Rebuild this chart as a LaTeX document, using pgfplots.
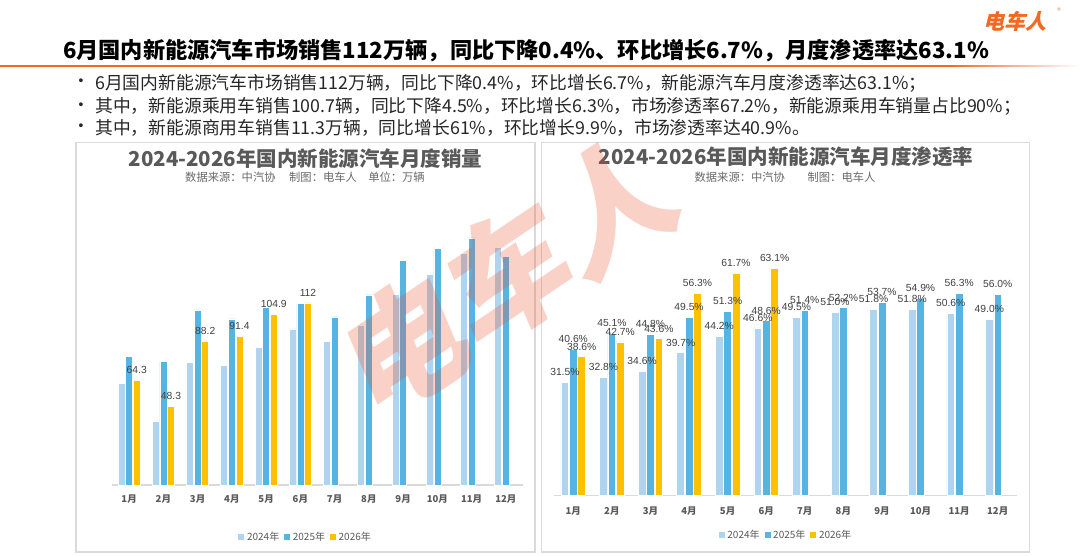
\documentclass[border=0pt]{standalone}
\usepackage{fontspec}
\usepackage{pgfplots}
\pgfplotsset{compat=1.18}
\setmainfont{Noto Sans CJK SC}
\newfontfamily\numfont{Liberation Sans}
\definecolor{c24}{HTML}{AED4F0}
\definecolor{c25}{HTML}{56B4E3}
\definecolor{c26}{HTML}{FFC000}
\definecolor{tgray}{HTML}{595959}
\definecolor{sgray}{HTML}{6A6A6A}
\definecolor{lgray}{HTML}{404040}
\definecolor{brd}{HTML}{DADADA}
\definecolor{orng}{HTML}{F26A21}
\definecolor{wm}{HTML}{E8502A}
\definecolor{txt}{HTML}{262626}

\pgfplotsset{
  mybar/.style={
    scale only axis, ybar=0.6pt, ymin=0, xmin=0.5, xmax=12.5,
    clip=false,
    axis y line=none, axis x line*=bottom,
    x axis line style={draw=brd, line width=1.5pt, -},
    xtick={1,...,12},
    xticklabels={1月,2月,3月,4月,5月,6月,7月,8月,9月,10月,11月,12月},
    major tick length=0pt,
    tick label style={font=\bfseries\fontsize{9.5}{10}\selectfont, text=tgray},
    xticklabel style={yshift=-6pt},
    legend columns=3,
    legend style={draw=none, fill=none, inner sep=0pt,
      font=\fontsize{10}{10}\selectfont, text=tgray,
      /tikz/every even column/.append style={column sep=2pt}},
    legend image code/.code={\fill (0pt,-3.5pt) rectangle (7pt,3.5pt);},
    every axis plot/.append style={draw=white, line width=0.6pt},
    /pgf/number format/assume math mode=true,
    every node near coord/.append style={font=\numfont\fontsize{10.3}{10.3}\selectfont, text=lgray, yshift=3pt},
  }
}

\pgfplotstableread{
m v24 v25
1 62.6 79.0
2 39.4 75.9
3 75.3 107.7
4 73.4 102.2
5 84.9 109.3
6 96.0 111.8
7 88.6 103.4
8 98.5 117.0
9 117.3 138.0
10 129.6 145.4
11 142.4 152.0
12 146.0 140.5
}\salesA
\pgfplotstableread{
m v26
1 64.3
2 48.3
3 88.2
4 91.4
5 104.9
6 112
}\salesB
\pgfplotstableread{
m v24 v25
1 31.5 40.6
2 32.8 45.1
3 34.6 44.8
4 39.7 49.5
5 44.2 51.3
6 46.6 48.6
7 49.5 51.4
8 51.0 52.2
9 51.8 53.7
10 51.8 54.9
11 50.6 56.3
12 49.0 56.0
}\penA
\pgfplotstableread{
m v26
1 38.6
2 42.7
3 43.6
4 56.3
5 61.7
6 63.1
}\penB

\begin{document}
\begin{tikzpicture}
\path[use as bounding box, fill=white] (0pt,0pt) rectangle (1080pt,557pt);

% header
\node[font=\bfseries\fontsize{22.2}{22}\selectfont, text=black] at (526pt,506pt)
  {6月国内新能源汽车市场销售112万辆，同比下降0.4\%、环比增长6.7\%，月度渗透率达63.1\%};
\fill[orng] (0pt,490pt) rectangle (950pt,491.8pt);
\shade[left color=orng, right color=white] (950pt,490pt) rectangle (1080pt,491.8pt);
\begin{scope}[shift={(1017pt,536pt)}, xslant=0.25, transform shape]
  \node[font=\bfseries\fontsize{21}{21}\selectfont, text=orng] at (0,0) {电车人};
\end{scope}
\node[font=\fontsize{7}{7}\selectfont, text=orng] at (1059pt,546pt) {®};

% bullets
\begin{scope}[every node/.style={anchor=west, text=txt, font=\fontsize{17.8}{17.8}\selectfont, inner sep=0pt}]
  \node at (72pt,473.7pt) {•};
  \node at (72pt,450.3pt) {•};
  \node at (72pt,428.7pt) {•};
  \node at (95pt,473.7pt) {6月国内新能源汽车市场销售112万辆，同比下降0.4\%，环比增长6.7\%，新能源汽车月度渗透率达63.1\%；};
  \node at (95pt,450.3pt) {其中，新能源乘用车销售100.7辆，同比下降4.5\%，环比增长6.3\%，市场渗透率67.2\%，新能源乘用车销量占比90\%；};
  \node at (95pt,428.7pt) {其中，新能源商用车销售11.3万辆，同比增长61\%，环比增长9.9\%，市场渗透率达40.9\%。};
\end{scope}

% panels
\draw[brd, line width=1.5pt] (76pt,5pt) rectangle (535pt,414.3pt);
\draw[brd, line width=1.5pt] (541.7pt,5pt) rectangle (1029.3pt,414.3pt);

\node[font=\bfseries\fontsize{20.5}{21}\selectfont, text=tgray] at (305.5pt,398.7pt) {2024-2026年国内新能源汽车月度销量};
\node[font=\fontsize{11.3}{11.3}\selectfont, text=sgray] at (305pt,380.3pt) {数据来源：中汽协\hspace{1.2em}制图：电车人\hspace{1em}单位：万辆};
\node[font=\bfseries\fontsize{20.5}{21}\selectfont, text=tgray] at (786pt,400.3pt) {2024-2026年国内新能源汽车月度渗透率};
\node[font=\fontsize{11.3}{11.3}\selectfont, text=sgray] at (785pt,380.3pt) {数据来源：中汽协\hspace{2em}制图：电车人};

% left chart
\begin{axis}[mybar, at={(112pt,72pt)}, anchor=south west,
  width=411pt, height=292.5pt, ymax=180, bar width=7pt,
  legend style={at={(0.47,-0.178)}, anchor=center}]
  \addplot[fill=c24] table[x=m, y=v24] {\salesA};
  \addplot[fill=c25] table[x=m, y=v25] {\salesA};
  \addplot[fill=c26, nodes near coords={\pgfmathprintnumber[fixed,precision=1]{\pgfplotspointmeta}}] table[x=m, y=v26] {\salesB};
  \legend{2024年,2025年,2026年}
\end{axis}

% right chart
\begin{axis}[mybar, at={(554pt,61.3pt)}, anchor=south west,
  width=463pt, height=288pt, ymax=80, bar width=7.8pt,
  xticklabel style={yshift=-2pt},
  nodes near coords={\pgfmathprintnumber[fixed,zerofill,precision=1]{\pgfplotspointmeta}\%},
  legend style={at={(0.5,-0.1365)}, anchor=center}]
  \addplot[fill=c24] table[x=m, y=v24] {\penA};
  \addplot[fill=c25] table[x=m, y=v25] {\penA};
  \addplot[fill=c26] table[x=m, y=v26] {\penB};
  \legend{2024年,2025年,2026年}
\end{axis}

% watermark
\begin{scope}[shift={(510pt,284pt)}, rotate=34, xslant=0.2, transform shape]
  \node[text=wm, opacity=0.26, font=\bfseries\fontsize{126}{126}\selectfont] at (0,0) {电车人};
\end{scope}
\end{tikzpicture}
\end{document}
